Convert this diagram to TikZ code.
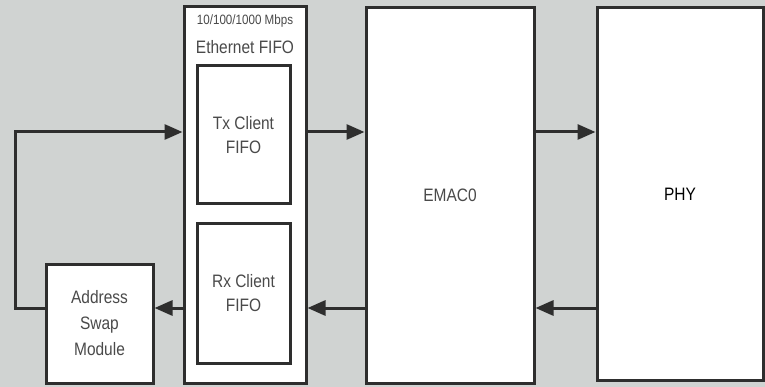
\documentclass[tikz,border=0pt]{standalone}
\usepackage{fontspec}
\setmainfont{Liberation Sans}[FakeStretch=0.86]
\usetikzlibrary{arrows.meta}
\definecolor{bggray}{HTML}{D0D3D2}
\definecolor{edgegray}{HTML}{2E2E2E}
\definecolor{txtgray}{HTML}{4A4A4A}

\begin{document}
\begin{tikzpicture}[x=1pt,y=-1pt,>={Triangle[length=18pt,width=15pt]},
    block/.style={draw=edgegray,line width=3pt,fill=white,inner sep=0pt,align=center,
      text=txtgray,font=\fontsize{18}{24}\selectfont},
    wire/.style={draw=edgegray,line width=3pt,->}]
  \fill[bggray] (0,0) rectangle (765,387);
  \useasboundingbox (0,0) rectangle (765,387);
  % blocks
  \node[block,minimum width=122pt,minimum height=376pt] (fifo) at (245,195) {};
  \node[text=txtgray,font=\fontsize{13.5}{15}\selectfont] (fifospeed) at (245,21) {10/100/1000 Mbps};
  \node[text=txtgray,font=\fontsize{18}{20}\selectfont] (fifoname) at (245,47) {Ethernet FIFO};
  \node[block,minimum width=93pt,minimum height=138pt] (tx) at (243.5,135) {Tx Client\\FIFO};
  \node[block,minimum width=93pt,minimum height=139pt] (rx) at (243.5,293.5) {Rx Client\\FIFO};
  \node[block,minimum width=107pt,minimum height=119pt,font=\fontsize{18}{26}\selectfont] (swap) at (99.5,323.5) {Address\\Swap\\Module};
  \node[block,minimum width=168pt,minimum height=375pt] (emac) at (450,195.5) {EMAC0};
  \node[block,minimum width=166pt,minimum height=372pt,text=black] (phy) at (680,194) {PHY};
  % rows for the connectors
  \coordinate (txrow) at (0,132);
  \coordinate (rxrow) at (0,308);
  \coordinate (loop) at (15,132);
  % connectors
  \draw[wire] (swap.west |- rxrow) -| (loop) -- (fifo.west |- txrow);
  \foreach \from/\to/\row in {fifo/emac/txrow, emac/phy/txrow}
    \draw[wire] (\from.east |- \row) -- (\to.west |- \row);
  \foreach \from/\to/\row in {phy/emac/rxrow, emac/fifo/rxrow, fifo/swap/rxrow}
    \draw[wire] (\from.west |- \row) -- (\to.east |- \row);
\end{tikzpicture}
\end{document}
